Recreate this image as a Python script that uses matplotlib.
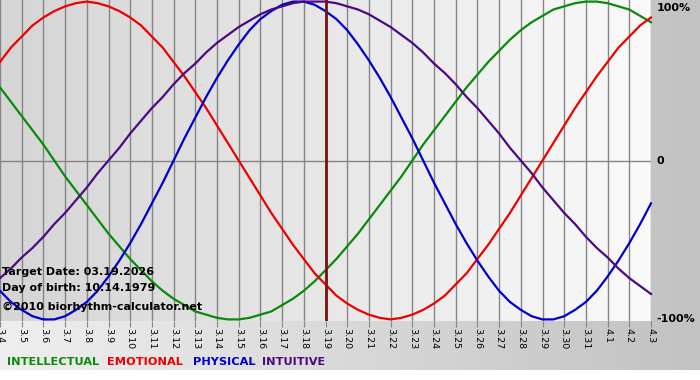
import numpy as np
import matplotlib
matplotlib.use("Agg")
import matplotlib.pyplot as plt
from matplotlib.colors import LinearSegmentedColormap

dates = ["3.4", "3.5", "3.6", "3.7", "3.8", "3.9", "3.10", "3.11", "3.12", "3.13",
         "3.14", "3.15", "3.16", "3.17", "3.18", "3.19", "3.20", "3.21", "3.22", "3.23",
         "3.24", "3.25", "3.26", "3.27", "3.28", "3.29", "3.30", "3.31", "4.1", "4.2", "4.3"]

# values read every half day, from 3.4 to 4.3
physical = [-0.82, -0.89, -0.94, -0.98, -1.00, -1.00, -0.98, -0.94, -0.89, -0.82,
            -0.73, -0.63, -0.52, -0.40, -0.27, -0.14,
            0.00, 0.14, 0.27, 0.40, 0.52, 0.63, 0.73, 0.82, 0.89, 0.94, 0.98, 1.00, 1.00,
            0.98, 0.94, 0.89, 0.82, 0.73, 0.63, 0.52, 0.40, 0.27, 0.14,
            0.00, -0.14, -0.27, -0.40, -0.52, -0.63, -0.73, -0.82, -0.89, -0.94, -0.98,
            -1.00, -1.00, -0.98, -0.94, -0.89, -0.82, -0.73, -0.63, -0.52, -0.40, -0.27]
emotional = [0.62, 0.71, 0.78, 0.85, 0.90, 0.94, 0.97, 0.99, 1.00, 0.99, 0.97, 0.94,
             0.90, 0.85, 0.78, 0.71, 0.62, 0.53, 0.43, 0.33, 0.22, 0.11, 0.00,
             -0.11, -0.22, -0.33, -0.43, -0.53, -0.62, -0.71, -0.78, -0.85, -0.90, -0.94,
             -0.97, -0.99, -1.00, -0.99, -0.97, -0.94, -0.90, -0.85, -0.78, -0.71, -0.62,
             -0.53, -0.43, -0.33, -0.22, -0.11,
             0.00, 0.11, 0.22, 0.33, 0.43, 0.53, 0.62, 0.71, 0.78, 0.85, 0.90]
intellectual = [0.46, 0.37, 0.28, 0.19, 0.10, 0.00,
                -0.10, -0.19, -0.28, -0.37, -0.46, -0.54, -0.62, -0.69, -0.76, -0.82,
                -0.87, -0.91, -0.95, -0.97, -0.99, -1.00, -1.00, -0.99, -0.97, -0.95,
                -0.91, -0.87, -0.82, -0.76, -0.69, -0.62, -0.54, -0.46, -0.37, -0.28,
                -0.19, -0.10,
                0.00, 0.10, 0.19, 0.28, 0.37, 0.46, 0.54, 0.62, 0.69, 0.76, 0.82, 0.87,
                0.91, 0.95, 0.97, 0.99, 1.00, 1.00, 0.99, 0.97, 0.95, 0.91, 0.87]
intuitive = [-0.74, -0.68, -0.61, -0.55, -0.48, -0.40, -0.33, -0.25, -0.17, -0.08,
             0.00, 0.08, 0.17, 0.25, 0.33, 0.40, 0.48, 0.55, 0.61, 0.68, 0.74, 0.79,
             0.84, 0.88, 0.92, 0.95, 0.97, 0.99, 1.00, 1.00, 1.00, 0.99, 0.97, 0.95,
             0.92, 0.88, 0.84, 0.79, 0.74, 0.68, 0.61, 0.55, 0.48, 0.40, 0.33, 0.25,
             0.17, 0.08,
             0.00, -0.08, -0.17, -0.25, -0.33, -0.40, -0.48, -0.55, -0.61, -0.68,
             -0.74, -0.79, -0.84]

target_date = "3.19"
target_text = "Target Date: 03.19.2026"
birth_text = "Day of birth: 10.14.1979"
copyright_text = "\u00a92010 biorhythm-calculator.net"
legend_names = ["INTELLECTUAL", "EMOTIONAL", "PHYSICAL", "INTUITIVE"]
colors = {"INTELLECTUAL": "#0a8a0a", "EMOTIONAL": "#ee0000",
          "PHYSICAL": "#0000cc", "INTUITIVE": "#4b0a82"}
right_labels = ["100%", "0", "-100%"]
right_values = [1.0, 0.0, -1.0]

plt.rcParams['font.family'] = ['DejaVu Sans']

W, H = 700, 380
fig = plt.figure(figsize=(W / 100, H / 100), dpi=100)
fig.patch.set_facecolor("white")

# figure background gradient (light left -> gray right), white strip at bottom
bg = fig.add_axes([0, 10 / H, 1, 1 - 10 / H], zorder=0)
bg_cmap = LinearSegmentedColormap.from_list("bg", ["#efefef", "#c2c2c2"])
bg.imshow(np.linspace(0, 1, 256)[None, :], aspect="auto", cmap=bg_cmap,
          extent=[0, 1, 0, 1])
bg.axis("off")

ax = fig.add_axes([0, (H - 321) / H, 651 / W, 321 / H], zorder=1)
days = np.arange(len(dates))
half_days = np.arange(len(physical)) / 2.0
pl_cmap = LinearSegmentedColormap.from_list("pl", ["#d5d5d5", "#fafafa"])
ax.imshow(np.linspace(0, 1, 256)[None, :], aspect="auto", cmap=pl_cmap,
          extent=[0, len(dates) - 1, -1.01, 1.01], zorder=0)

for xi in days:
    ax.axvline(xi, color="#858585", lw=1.0, zorder=1)
ax.axhline(0, color="#858585", lw=1.0, zorder=1)

series = {"INTELLECTUAL": intellectual, "EMOTIONAL": emotional,
          "PHYSICAL": physical, "INTUITIVE": intuitive}
for name in ["INTELLECTUAL", "EMOTIONAL", "PHYSICAL", "INTUITIVE"]:
    ax.plot(half_days, series[name], color=colors[name], lw=1.6, zorder=3,
            solid_joinstyle="round", clip_on=False)

ax.axvline(dates.index(target_date), color="#7a1010", lw=2.0, zorder=4)

ax.set_xlim(0, len(dates) - 1)
ax.set_ylim(-1.01, 1.01)
ax.set_xticks(days)
ax.set_xticklabels(dates, rotation=270, fontsize=6.8, ha="center", va="top")
ax.tick_params(axis="x", length=4, color="#858585", pad=1)
ax.set_yticks([])
for s in ax.spines.values():
    s.set_visible(False)

for yv, t in zip([-0.70, -0.80, -0.92], [target_text, birth_text, copyright_text]):
    ax.text(0.1, yv, t, fontsize=8, fontweight="bold", va="center", ha="left", zorder=5)

for val, lab in zip(right_values, right_labels):
    ax.text(1.008, val if val != 1.0 else 0.96, lab, transform=ax.get_yaxis_transform(),
            fontsize=8, fontweight="bold", va="center", ha="left", clip_on=False)

leg_x = [7, 107, 193, 262]
for xp, name in zip(leg_x, legend_names):
    fig.text(xp / W, 1 - 362 / H, name, color=colors[name], fontsize=8.2,
             fontweight="bold", va="center", ha="left")

fig.savefig("out.png", dpi=100)
